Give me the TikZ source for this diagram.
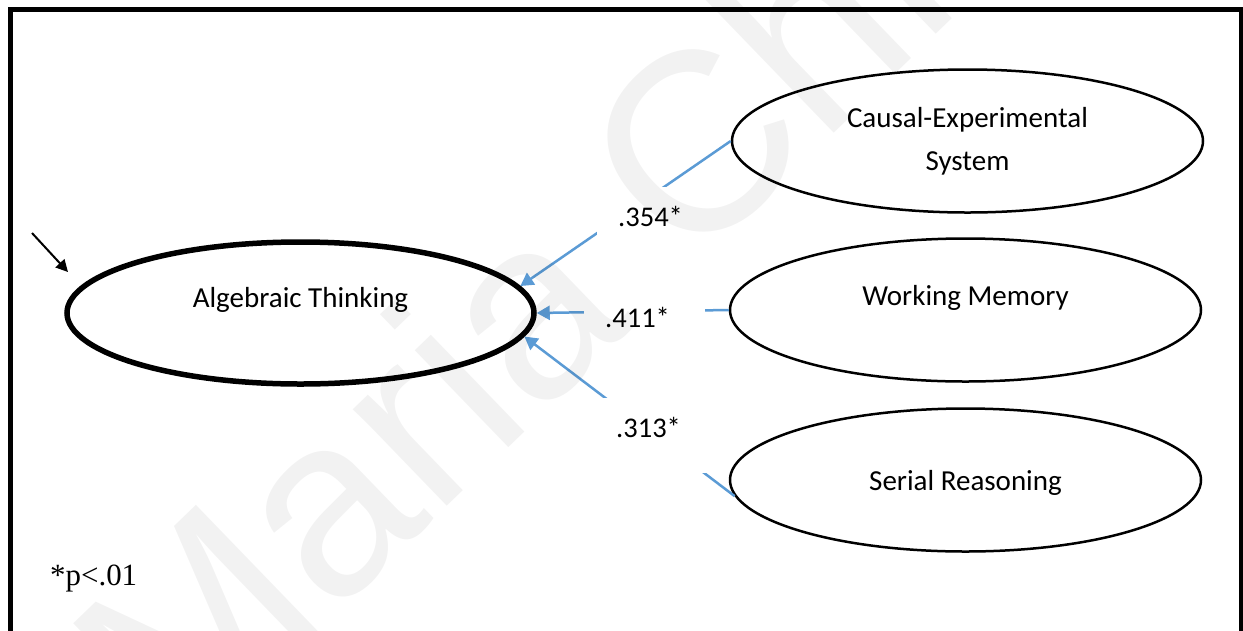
\documentclass[tikz,border=0pt]{standalone}
\usepackage{fontspec}
\newfontfamily\calibrifam{Carlito}
\newfontfamily\timesfam{Liberation Serif}
\newfontfamily\markfam{Liberation Sans}
\usetikzlibrary{shapes.geometric,arrows.meta}
\definecolor{pathblue}{HTML}{5B9BD5}
\begin{document}
\begin{tikzpicture}[x=1pt,y=-1pt,
  construct/.style={draw, ellipse, line width=2.5pt, minimum width=471pt,
    minimum height=143pt, inner sep=0pt, align=center,
    font=\calibrifam\fontsize{29}{43}\selectfont},
  outcome/.style={construct, line width=5.5pt, minimum width=467pt, minimum height=142pt},
  pathline/.style={draw=pathblue, line width=2.5pt, -{Triangle[length=13pt,width=14pt]}},
  errline/.style={draw=black, line width=2pt, -{Triangle[length=12pt,width=12pt]}},
  coef/.style={fill=white, anchor=north west, inner xsep=21pt, inner ysep=4pt,
    text width=79pt, align=left, text height=35pt, text depth=32pt,
    font=\calibrifam\fontsize{28.5}{34}\selectfont},
]
\useasboundingbox (0,0) rectangle (1243,630);
\fill[white] (0,0) rectangle (1243,630);

% page frame, open at the bottom
\draw[line width=5pt] (10.5,9.5) rectangle (1241.5,720);

% latent constructs
\node[outcome, text height=25pt, text depth=37pt] (alg) at (300.5,313) {Algebraic Thinking};
\node[construct] (ces) at (967.5,141) {Causal-Experimental\\System};
\node[construct, text height=25pt, text depth=35pt] (wmem) at (965.5,310) {Working Memory};
\node[construct, text height=30pt, text depth=10pt] (ser) at (965.5,480) {Serial Reasoning};

% disturbance term
\coordinate (d1) at (32,233);
\coordinate (d2) at (68,272);
\draw[errline] (d1) -- (d2);

% structural paths
\draw[pathline] (ces.west) -- (alg.7);
\draw[pathline] (wmem.west) -- (alg.east);
\draw[pathline] (ser.184) -- (alg.-6);

% path coefficients
\node[coef] (c1) at (597,187) {.354*};
\node[coef] (c2) at (584,288) {.411*};
\node[coef] (c3) at (595,398) {.313*};

% significance note
\node[anchor=base west, inner sep=0pt, font=\timesfam\fontsize{30.9}{36}\selectfont] (note) at (50,585) {*p<.01};

% watermark
\begin{scope}
  \clip (0,0) rectangle (1243,630);
  \node[rotate=44, anchor=base west, inner sep=0pt, text opacity=0.05,
    font=\markfam\fontsize{255}{255}\selectfont] (mark) at (180,765) {Maria Chr};
\end{scope}
\end{tikzpicture}
\end{document}
